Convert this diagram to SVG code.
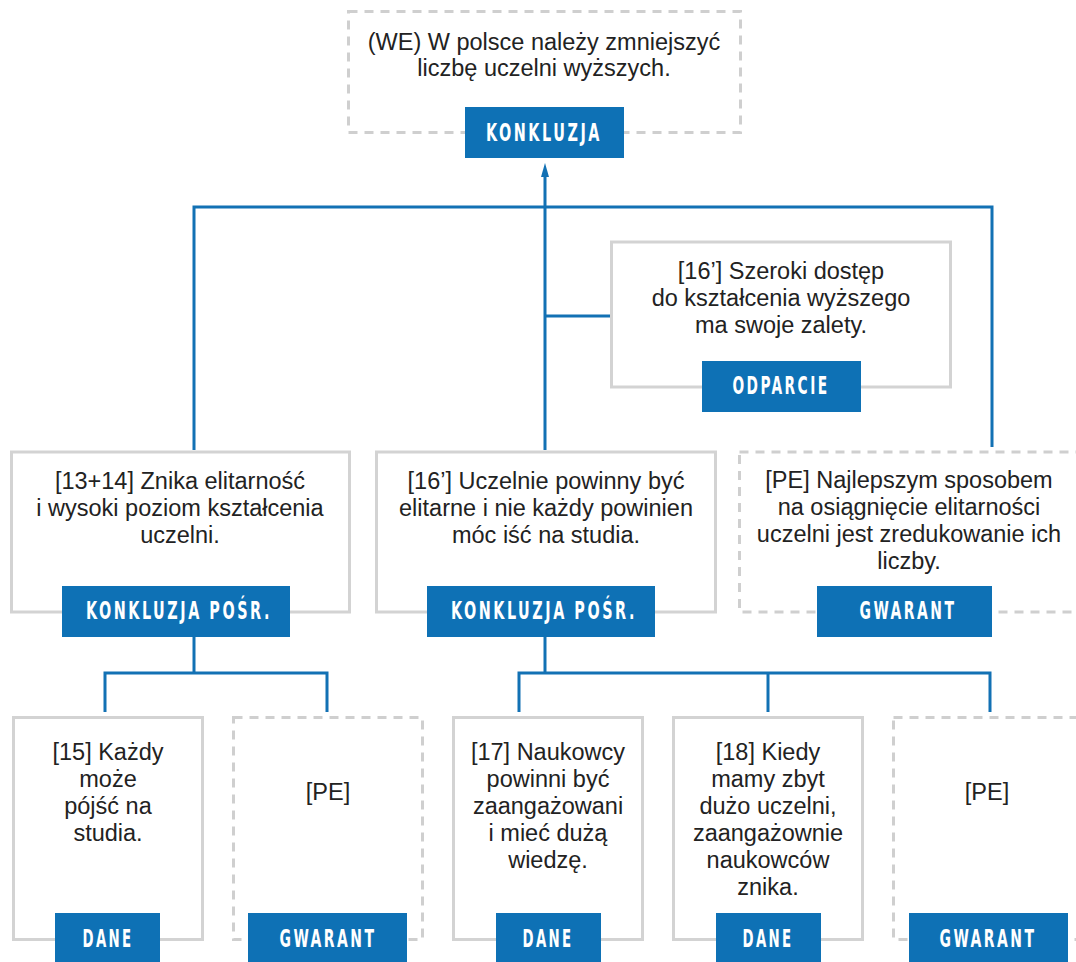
<svg xmlns="http://www.w3.org/2000/svg" width="1076" height="962" viewBox="0 0 1076 962">
  <style>
    .box { fill: #ffffff; stroke: #d3d3d3; stroke-width: 3; }
    .dash { fill: #ffffff; stroke: #cfcfcf; stroke-width: 3; stroke-dasharray: 9 7; }
    .tag { fill: #0e71b5; }
    .tagtxt { fill: #ffffff; font-family: "DejaVu Sans Condensed", "DejaVu Sans", sans-serif; font-stretch: condensed; font-weight: bold; font-size: 25px; letter-spacing: 4px; text-anchor: middle; }
    .txt { fill: #222222; font-family: "Liberation Sans", Arial, sans-serif; font-size: 23.5px; text-anchor: middle; }
    .link { fill: none; stroke: #1271b4; stroke-width: 3; }
  </style>
  <defs>
    <marker id="arrow" viewBox="0 0 14 8" refX="0" refY="4" markerWidth="14" markerHeight="8" markerUnits="userSpaceOnUse" orient="auto">
      <path d="M0,0 L14,4 L0,8 z" fill="#1271b4"/>
    </marker>
  </defs>

  <rect width="1076" height="962" fill="#ffffff"/>

  <!-- connectors -->
  <g id="connectors">
    <path class="link" d="M545 450 V177" marker-end="url(#arrow)"/>
    <path class="link" d="M194 450 V207 H992 V447"/>
    <path class="link" d="M545 316 H611"/>
    <path class="link" d="M194 637 V673"/>
    <path class="link" d="M105 712 V673 H327 V712"/>
    <path class="link" d="M545 637 V673"/>
    <path class="link" d="M519 712 V673 H990 V712"/>
    <path class="link" d="M768 673 V712"/>
  </g>

  <!-- main claim -->
  <g id="node-konkluzja">
    <rect class="dash" x="348.5" y="11.5" width="392" height="121"/>
    <text class="txt" x="544" y="50">(WE) W polsce należy zmniejszyć</text>
    <text class="txt" x="544" y="76">liczbę uczelni wyższych.</text>
    <rect class="tag" x="465" y="107" width="159" height="51"/>
    <text class="tagtxt" x="544" y="141" textLength="116" lengthAdjust="spacingAndGlyphs">KONKLUZJA</text>
  </g>

  <!-- rebuttal -->
  <g id="node-odparcie">
    <rect class="box" x="611.5" y="242" width="339" height="145"/>
    <text class="txt" x="781" y="279">[16’] Szeroki dostęp</text>
    <text class="txt" x="781" y="306">do kształcenia wyższego</text>
    <text class="txt" x="781" y="333">ma swoje zalety.</text>
    <rect class="tag" x="702" y="361" width="159" height="51"/>
    <text class="tagtxt" x="781" y="394" textLength="97" lengthAdjust="spacingAndGlyphs">ODPARCIE</text>
  </g>

  <!-- intermediate conclusion, left -->
  <g id="node-posr-1">
    <rect class="box" x="11.5" y="452" width="338" height="160"/>
    <text class="txt" x="180" y="489">[13+14] Znika elitarność</text>
    <text class="txt" x="180" y="516">i wysoki poziom kształcenia</text>
    <text class="txt" x="180" y="543">uczelni.</text>
    <rect class="tag" x="62" y="586" width="228" height="51"/>
    <text class="tagtxt" x="179" y="619" textLength="186" lengthAdjust="spacingAndGlyphs">KONKLUZJA POŚR.</text>
  </g>

  <!-- intermediate conclusion, centre -->
  <g id="node-posr-2">
    <rect class="box" x="376.5" y="452" width="339" height="160"/>
    <text class="txt" x="546" y="489">[16’] Uczelnie powinny być</text>
    <text class="txt" x="546" y="516">elitarne i nie każdy powinien</text>
    <text class="txt" x="546" y="543">móc iść na studia.</text>
    <rect class="tag" x="427" y="586" width="228" height="51"/>
    <text class="tagtxt" x="544" y="619" textLength="186" lengthAdjust="spacingAndGlyphs">KONKLUZJA POŚR.</text>
  </g>

  <!-- warrant of the main claim -->
  <g id="node-gwarant-1">
    <rect class="dash" x="739.5" y="452" width="350" height="160"/>
    <text class="txt" x="909" y="488">[PE] Najlepszym sposobem</text>
    <text class="txt" x="909" y="515">na osiągnięcie elitarności</text>
    <text class="txt" x="909" y="542">uczelni jest zredukowanie ich</text>
    <text class="txt" x="909" y="569">liczby.</text>
    <rect class="tag" x="817" y="586" width="175" height="51"/>
    <text class="tagtxt" x="908" y="619" textLength="97" lengthAdjust="spacingAndGlyphs">GWARANT</text>
  </g>

  <!-- data [15] -->
  <g id="node-dane-15">
    <rect class="box" x="13.5" y="717.5" width="189" height="222"/>
    <text class="txt" x="108" y="760">[15] Każdy</text>
    <text class="txt" x="108" y="787">może</text>
    <text class="txt" x="108" y="814">pójść na</text>
    <text class="txt" x="108" y="841">studia.</text>
    <rect class="tag" x="55" y="913" width="105" height="49"/>
    <text class="tagtxt" x="108" y="947" textLength="51" lengthAdjust="spacingAndGlyphs">DANE</text>
  </g>

  <!-- warrant, left -->
  <g id="node-gwarant-2">
    <rect class="dash" x="233.5" y="717.5" width="189" height="222"/>
    <text class="txt" x="328" y="800">[PE]</text>
    <rect class="tag" x="248" y="913" width="159" height="49"/>
    <text class="tagtxt" x="328" y="947" textLength="97" lengthAdjust="spacingAndGlyphs">GWARANT</text>
  </g>

  <!-- data [17] -->
  <g id="node-dane-17">
    <rect class="box" x="453.5" y="717.5" width="189" height="222"/>
    <text class="txt" x="548" y="760">[17] Naukowcy</text>
    <text class="txt" x="548" y="787">powinni być</text>
    <text class="txt" x="548" y="814">zaangażowani</text>
    <text class="txt" x="548" y="841">i mieć dużą</text>
    <text class="txt" x="548" y="868">wiedzę.</text>
    <rect class="tag" x="496" y="913" width="105" height="49"/>
    <text class="tagtxt" x="548" y="947" textLength="51" lengthAdjust="spacingAndGlyphs">DANE</text>
  </g>

  <!-- data [18] -->
  <g id="node-dane-18">
    <rect class="box" x="673.5" y="717.5" width="189" height="222"/>
    <text class="txt" x="768" y="760">[18] Kiedy</text>
    <text class="txt" x="768" y="787">mamy zbyt</text>
    <text class="txt" x="768" y="814">dużo uczelni,</text>
    <text class="txt" x="768" y="841">zaangażownie</text>
    <text class="txt" x="768" y="868">naukowców</text>
    <text class="txt" x="768" y="895">znika.</text>
    <rect class="tag" x="716" y="913" width="105" height="49"/>
    <text class="tagtxt" x="768" y="947" textLength="51" lengthAdjust="spacingAndGlyphs">DANE</text>
  </g>

  <!-- warrant, right -->
  <g id="node-gwarant-3">
    <rect class="dash" x="893.5" y="717.5" width="200" height="222"/>
    <text class="txt" x="987" y="800">[PE]</text>
    <rect class="tag" x="909" y="913" width="159" height="49"/>
    <text class="tagtxt" x="988" y="947" textLength="97" lengthAdjust="spacingAndGlyphs">GWARANT</text>
  </g>
</svg>
